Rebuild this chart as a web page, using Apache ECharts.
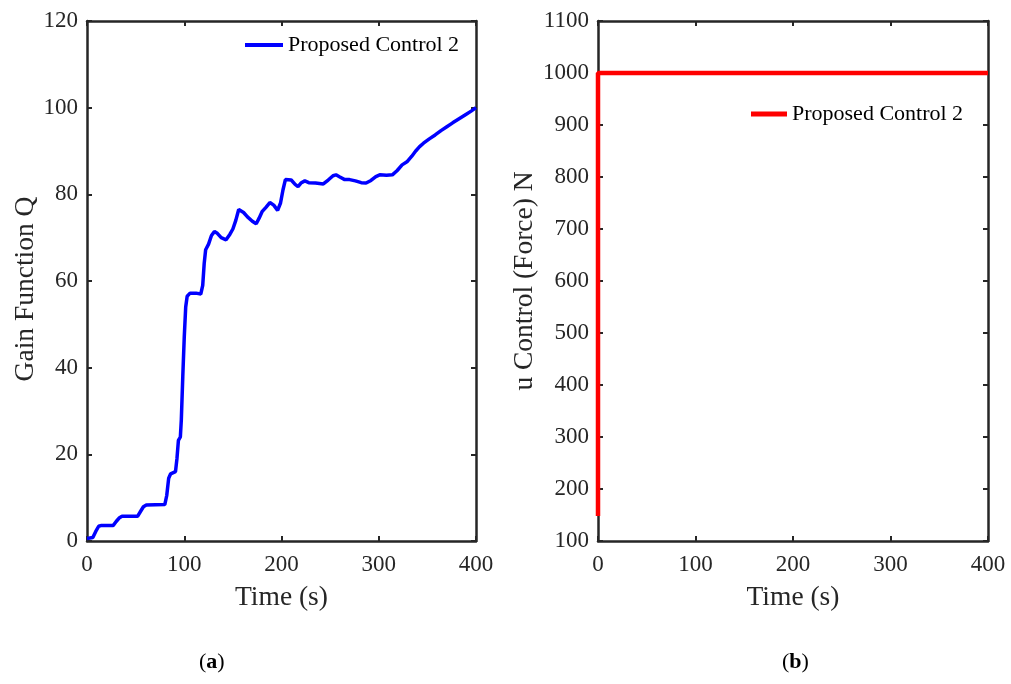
<!DOCTYPE html>
<html>
<head>
<meta charset="utf-8">
<script src="https://cdn.jsdelivr.net/npm/echarts@6/dist/echarts.min.js"></script>
<style>
html,body{margin:0;padding:0;background:#fff;}
#chart{width:1011px;height:684px;}
</style>
</head>
<body>
<div id="chart"></div>
<script>
// ---- Data ----
const gainTime = [0,6,9,12,15,27,30,33,36,52,55,58,61,80,82,84,86,91,92.5,94,96,97,98.5,100,101.5,103,106,112,117,119,120.5,122,125,128,131,134,138,143,147,150,153,156,158,161,165,170,174,177,180,184,188,192,196,199,201.5,204,206,210,214,217,220,224,228,235,243,248,253,256,260,265,270,276,282,287,292,297,301,308,314,319,324,329,334,338,342,346,352,358,364,370,376,383,390,395,400];
const gainQ = [0.6,0.8,2.2,3.4,3.6,3.6,4.5,5.3,5.7,5.7,6.8,7.9,8.3,8.4,10.5,14.5,15.5,16,19,23.2,24,28,38,47,54,56.5,57.2,57.2,57,59,64,67.2,68.5,70.5,71.4,71,70,69.5,70.8,72,74,76.5,76.8,75.8,74.8,73.8,73.2,74.5,76,77,78.1,77.5,76.3,78,81,83.4,83.7,83.3,82.3,81.8,82.6,83.1,82.7,82.6,82.4,83.3,84.3,84.5,84,83.4,83.4,83.1,82.7,82.6,83.2,84.1,84.5,84.4,84.5,85.5,86.8,87.5,88.8,90,91,91.8,92.8,93.7,94.7,95.6,96.5,97.5,98.5,99.2,100];
const forceTime = [0,0,400];
const forceU = [148,1000,1000];
const xTicks = {min:0,max:400,interval:100};
const yTicksA = {min:0,max:120,interval:20};
const yTicksB = {min:100,max:1100,interval:100};
const legendLabel = 'Proposed Control 2';
const xTitle = 'Time (s)';
const yTitleA = 'Gain Function Q';
const yTitleB = 'u Control (Force) N';

const FONT = 'Liberation Serif';
const AX = '#262626';
const chart = echarts.init(document.getElementById('chart'), null, {renderer:'canvas'});

function xAx(grid, pos){
  const main = pos==='bottom';
  return {
    type:'value', gridIndex:grid, position:pos, min:xTicks.min, max:xTicks.max, interval:xTicks.interval,
    name: main? xTitle : '', nameLocation:'middle', nameGap:43,
    nameTextStyle:{fontFamily:FONT,fontSize:27.5,color:AX},
    axisLine:{show:true,onZero:false,lineStyle:{color:AX,width:2.5}},
    axisTick:{show:true,inside:true,length:5,lineStyle:{color:AX,width:2}},
    axisLabel:{show:main,fontFamily:FONT,fontSize:23,color:AX,margin:12,formatter:v=>String(v)},
    splitLine:{show:false}
  };
}
function yAx(grid, pos, t, title, gap, pad){
  const main = pos==='left';
  return {
    type:'value', gridIndex:grid, position:pos, min:t.min, max:t.max, interval:t.interval,
    name: main? title : '', nameLocation:'middle', nameGap:gap,
    nameTextStyle:{fontFamily:FONT,fontSize:27.5,color:AX,padding:pad||0},
    axisLine:{show:true,onZero:false,lineStyle:{color:AX,width:2.5}},
    axisTick:{show:true,inside:true,length:5,lineStyle:{color:AX,width:2}},
    axisLabel:{show:main,fontFamily:FONT,fontSize:23,color:AX,margin:9,formatter:v=>String(v)},
    splitLine:{show:false}
  };
}

const option = {
  animation:false,
  backgroundColor:'#ffffff',
  grid:[
    {left:87,top:21,width:389,height:520},
    {left:598,top:21,width:390,height:520}
  ],
  xAxis:[xAx(0,'bottom'),xAx(0,'top'),xAx(1,'bottom'),xAx(1,'top')],
  yAxis:[yAx(0,'left',yTicksA,yTitleA,47,[0,16,0,0]),yAx(0,'right',yTicksA,'',0),yAx(1,'left',yTicksB,yTitleB,59),yAx(1,'right',yTicksB,'',0)],
  legend:[
    {data:['a'],left:245,top:34,padding:0,icon:'rect',itemWidth:38,itemHeight:4,itemGap:0,
     formatter:()=>legendLabel,textStyle:{fontFamily:FONT,fontSize:22,color:'#000'}},
    {data:['b'],left:751,top:103,padding:0,icon:'rect',itemWidth:36,itemHeight:5,itemGap:0,
     formatter:()=>legendLabel,textStyle:{fontFamily:FONT,fontSize:22,color:'#000'}}
  ],
  series:[
    {name:'a',type:'line',xAxisIndex:0,yAxisIndex:0,showSymbol:false,symbol:'none',
     data:gainTime.map((t,i)=>[t,gainQ[i]]),lineStyle:{color:'#0000ff',width:3.5},itemStyle:{color:'#0000ff'},clip:false},
    {name:'b',type:'line',xAxisIndex:2,yAxisIndex:2,showSymbol:false,symbol:'none',
     data:forceTime.map((t,i)=>[t,forceU[i]]),lineStyle:{color:'#ff0000',width:4.5},itemStyle:{color:'#ff0000'},clip:false}
  ],
  graphic:[
    {type:'text',left:199,top:651,style:{text:'{n|(}{b|a}{n|)}',rich:{n:{fontFamily:FONT,fontSize:22,fill:'#000'},b:{fontFamily:FONT,fontSize:22,fontWeight:'bold',fill:'#000'}}}},
    {type:'text',left:782,top:651,style:{text:'{n|(}{b|b}{n|)}',rich:{n:{fontFamily:FONT,fontSize:22,fill:'#000'},b:{fontFamily:FONT,fontSize:22,fontWeight:'bold',fill:'#000'}}}}
  ]
};
chart.setOption(option);
</script>
</body>
</html>
